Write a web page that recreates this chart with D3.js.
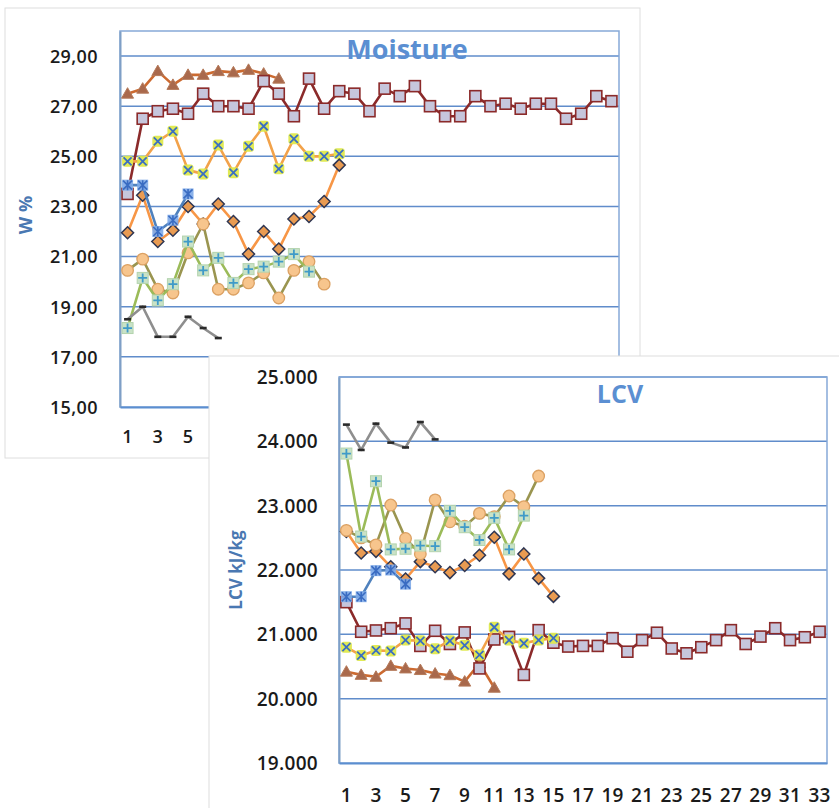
<!DOCTYPE html>
<html>
<head>
<meta charset="utf-8">
<script src="https://cdn.jsdelivr.net/npm/d3@7"></script>
<style>
  html, body { margin: 0; padding: 0; background: #ffffff; }
  svg { display: block; }
  text { font-family: "Open Sans", "Noto Sans", sans-serif; }
</style>
</head>
<body>
<svg id="chart" width="839" height="808"></svg>
<script>
// Sample numbers shared by both panels
const categories = [1,2,3,4,5,6,7,8,9,10,11,12,13,14,15,16,17,18,19,20,21,22,23,24,25,26,27,28,29,30,31,32,33];
const moistXTicks = [1, 3, 5];
const lcvXTicks = [1,3,5,7,9,11,13,15,17,19,21,23,25,27,29,31,33];

// Moisture, W %
const moistTicks = [15, 17, 19, 21, 23, 25, 27, 29];
const moistTickLabels = ["15,00", "17,00", "19,00", "21,00", "23,00", "25,00", "27,00", "29,00"];
const moistTriangle = [27.5, 27.7, 28.4, 27.85, 28.25, 28.25, 28.4, 28.35, 28.45, 28.3, 28.1];
const moistSquare = [23.5, 26.5, 26.8, 26.9, 26.7, 27.5, 27.0, 27.0, 26.9, 28.0, 27.5, 26.6, 28.1, 26.9, 27.6, 27.5, 26.8,
                     27.7, 27.4, 27.8, 27.0, 26.6, 26.6, 27.4, 27.0, 27.1, 26.9, 27.1, 27.1, 26.5, 26.7, 27.4, 27.2];
const moistCross = [24.8, 24.8, 25.6, 26.0, 24.45, 24.3, 25.45, 24.35, 25.4, 26.2, 24.5, 25.7, 25.0, 25.0, 25.1];
const moistDiamond = [21.95, 23.45, 21.6, 22.05, 23.0, 22.3, 23.1, 22.4, 21.1, 22.0, 21.3, 22.5, 22.6, 23.2, 24.65];
const moistStar = [23.85, 23.85, 22.0, 22.45, 23.5];
const moistCircle = [20.45, 20.9, 19.7, 19.55, 21.15, 22.3, 19.7, 19.7, 19.95, 20.35, 19.35, 20.45, 20.8, 19.9];
const moistPlus = [18.15, 20.15, 19.25, 19.9, 21.6, 20.45, 20.95, 19.95, 20.5, 20.6, 20.8, 21.1, 20.4];
const moistDash = [18.5, 19.0, 17.8, 17.8, 18.6, 18.15, 17.75];

// LCV, kJ/kg
const lcvTicks = [19000, 20000, 21000, 22000, 23000, 24000, 25000];
const lcvTickLabels = ["19.000", "20.000", "21.000", "22.000", "23.000", "24.000", "25.000"];
const lcvTriangle = [20420, 20370, 20340, 20510, 20470, 20445, 20390, 20365, 20265, 20550, 20170];
const lcvSquare = [21500, 21040, 21060, 21095, 21170, 20820, 21055, 20850, 21030, 20470, 20920, 20960, 20370, 21065, 20870,
                   20810, 20820, 20820, 20940, 20730, 20910, 21025, 20780, 20705, 20800, 20910, 21065, 20850, 20965, 21095,
                   20910, 20955, 21040];
const lcvCross = [20800, 20670, 20750, 20740, 20910, 20900, 20775, 20900, 20830, 20680, 21110, 20910, 20860, 20910, 20940];
const lcvDiamond = [22600, 22265, 22290, 22050, 21860, 22130, 22050, 21960, 22070, 22230, 22510, 21940, 22250, 21870, 21590];
const lcvStar = [21585, 21585, 21990, 22000, 21780];
const lcvCircle = [22615, 22500, 22390, 23010, 22490, 22250, 23090, 22750, 22680, 22880, 22830, 23150, 22985, 23460];
const lcvPlus = [23810, 22520, 23380, 22320, 22330, 22380, 22370, 22920, 22665, 22466, 22810, 22320, 22845];
const lcvDash = [24260, 23866, 24275, 23980, 23905, 24300, 24030];

// Series appearance (drawn in this order, later ones on top)
const styles = {
  triangle: { line: "#cc6a30", fill: "#a9694c", stroke: "#b57a5a" },
  square:   { line: "#8b2a2a", fill: "#c6c6dc", stroke: "#8b2a2a" },
  cross:    { line: "#f2a24a", fill: "#dfe94c", stroke: "#3a6fc2" },
  diamond:  { line: "#f79646", fill: "#e99b52", stroke: "#2f3652" },
  star:     { line: "#4f81bd", fill: "#7eaae8", stroke: "#3a6cc2" },
  circle:   { line: "#9a9550", fill: "#f7c58d", stroke: "#dca163" },
  plus:     { line: "#9bbb59", fill: "#c9e2c7", stroke: "#3f9ac8" },
  dash:     { line: "#8e8e8e", fill: "none",    stroke: "#2a2a2a" }
};

const svg = d3.select("#chart");

function drawMarker(g, kind, st) {
  if (kind === "triangle") {
    g.append("path").attr("d", "M0,-6 L6,4.5 L-6,4.5 Z")
      .attr("fill", st.fill).attr("stroke", st.stroke).attr("stroke-width", 1);
  } else if (kind === "square") {
    g.append("rect").attr("x", -5.5).attr("y", -5.5).attr("width", 11).attr("height", 11)
      .attr("fill", st.fill).attr("stroke", st.stroke).attr("stroke-width", 1.6);
  } else if (kind === "cross") {
    g.append("rect").attr("x", -5.5).attr("y", -5.5).attr("width", 11).attr("height", 11).attr("rx", 3)
      .attr("fill", st.fill).attr("opacity", 0.95);
    g.append("path").attr("d", "M-4,-4 L4,4 M4,-4 L-4,4")
      .attr("stroke", st.stroke).attr("stroke-width", 1.8).attr("fill", "none");
  } else if (kind === "diamond") {
    g.append("path").attr("d", "M0,-6 L6,0 L0,6 L-6,0 Z")
      .attr("fill", st.fill).attr("stroke", st.stroke).attr("stroke-width", 1.5);
  } else if (kind === "star") {
    g.append("rect").attr("x", -5.5).attr("y", -5.5).attr("width", 11).attr("height", 11)
      .attr("fill", st.fill).attr("opacity", 0.9);
    g.append("path").attr("d", "M-4.5,-4.5 L4.5,4.5 M4.5,-4.5 L-4.5,4.5 M0,-5 L0,5")
      .attr("stroke", st.stroke).attr("stroke-width", 1.6).attr("fill", "none");
  } else if (kind === "circle") {
    g.append("circle").attr("r", 5.8)
      .attr("fill", st.fill).attr("stroke", st.stroke).attr("stroke-width", 1.3);
  } else if (kind === "plus") {
    g.append("rect").attr("x", -5.5).attr("y", -5.5).attr("width", 11).attr("height", 11)
      .attr("fill", st.fill).attr("stroke", "#b3d3ad").attr("stroke-width", 1);
    g.append("path").attr("d", "M-4.5,0 L4.5,0 M0,-4.5 L0,4.5")
      .attr("stroke", st.stroke).attr("stroke-width", 1.8).attr("fill", "none");
  } else if (kind === "dash") {
    g.append("path").attr("d", "M-3.5,0 L3.5,0")
      .attr("stroke", st.stroke).attr("stroke-width", 2.6).attr("fill", "none");
  }
}

function drawPanel(cfg) {
  const root = svg.append("g");

  // panel card
  root.append("rect")
    .attr("x", cfg.card[0]).attr("y", cfg.card[1])
    .attr("width", cfg.card[2]).attr("height", cfg.card[3])
    .attr("fill", "#ffffff").attr("stroke", "#dedede").attr("stroke-width", 1);

  const pl = cfg.plot;
  const x = d3.scaleBand().domain(categories).range([pl.left, pl.right]);
  const cx = d => x(d) + x.bandwidth() / 2;
  const y = d3.scaleLinear().domain(cfg.yDomain).range([pl.bottom, pl.top]);

  // horizontal gridlines
  root.append("g").selectAll("line")
    .data(cfg.ticks.filter(t => t > cfg.yDomain[0]))
    .join("line")
    .attr("x1", pl.left).attr("x2", pl.right)
    .attr("y1", d => y(d)).attr("y2", d => y(d))
    .attr("stroke", "#4f80c6").attr("stroke-width", 1.5).attr("opacity", 0.9);

  // plot frame
  root.append("rect")
    .attr("x", pl.left).attr("y", pl.top)
    .attr("width", pl.right - pl.left).attr("height", pl.bottom - pl.top)
    .attr("fill", "none").attr("stroke", "#86a9d8").attr("stroke-width", 1.5);

  // axes
  const yAxis = d3.axisLeft(y).tickValues(cfg.ticks)
    .tickFormat((d, i) => cfg.tickLabels[i]).tickSize(0).tickPadding(cfg.yPad);
  const ya = root.append("g").attr("transform", `translate(${pl.left},0)`).call(yAxis);
  ya.select(".domain").attr("stroke", "#7f9fc6").attr("stroke-width", 2);
  ya.selectAll("text")
    .attr("fill", "#1a1a1a").attr("font-size", cfg.tickSize).attr("font-weight", 600)
    .attr("letter-spacing", cfg.tickSpacing)
    .attr("dy", "0.35em");

  const xAxis = d3.axisBottom(x).tickValues(cfg.xTicks).tickSize(0).tickPadding(0);
  const xa = root.append("g").attr("transform", `translate(0,${pl.bottom})`).call(xAxis);
  xa.select(".domain").attr("stroke", "#5b8ed0").attr("stroke-width", 2);
  xa.selectAll("text")
    .attr("fill", "#1a1a1a").attr("font-size", cfg.tickSize).attr("font-weight", 600)
    .attr("letter-spacing", cfg.tickSpacing)
    .attr("y", cfg.xLabelOffset).attr("dy", "0.35em");

  // series
  const order = ["triangle", "square", "cross", "diamond", "star", "circle", "plus", "dash"];
  order.forEach(kind => {
    const vals = cfg.series[kind];
    const st = styles[kind];
    const pts = vals.map((v, i) => [cx(categories[i]), y(v)]);
    root.append("path")
      .attr("d", d3.line()(pts))
      .attr("fill", "none").attr("stroke", st.line)
      .attr("stroke-width", 2.6).attr("stroke-linejoin", "round");
    root.append("g").selectAll("g")
      .data(pts).join("g")
      .attr("transform", d => `translate(${d[0]},${d[1]})`)
      .each(function () { drawMarker(d3.select(this), kind, st); });
  });

  // chart title
  root.append("text")
    .attr("x", cfg.title.x).attr("y", cfg.title.y)
    .attr("text-anchor", "middle")
    .attr("font-size", cfg.title.size).attr("font-weight", 700)
    .attr("fill", "#5b8fd2")
    .text(cfg.title.text);

  // axis title
  root.append("text")
    .attr("transform", `translate(${cfg.yTitle.x},${cfg.yTitle.y}) rotate(-90)`)
    .attr("text-anchor", "middle").attr("dy", "0.35em")
    .attr("font-size", cfg.yTitle.size).attr("font-weight", 700)
    .attr("fill", "#4a78b2")
    .text(cfg.yTitle.text);
}

drawPanel({
  card: [5, 8, 635, 450],
  plot: { left: 120, right: 619, top: 31, bottom: 407 },
  yDomain: [15, 30],
  ticks: moistTicks,
  tickLabels: moistTickLabels,
  xTicks: moistXTicks,
  tickSize: 18, tickSpacing: 0.4, yPad: 22, xLabelOffset: 30,
  title: { text: "Moisture", x: 407, y: 59, size: 27 },
  yTitle: { text: "W %", x: 26, y: 215, size: 18 },
  series: {
    triangle: moistTriangle, square: moistSquare, cross: moistCross, diamond: moistDiamond,
    star: moistStar, circle: moistCircle, plus: moistPlus, dash: moistDash
  }
});

drawPanel({
  card: [209, 356, 640, 460],
  plot: { left: 339, right: 827, top: 377, bottom: 763 },
  yDomain: [19000, 25000],
  ticks: lcvTicks,
  tickLabels: lcvTickLabels,
  xTicks: lcvXTicks,
  tickSize: 19, tickSpacing: 0.3, yPad: 21, xLabelOffset: 32,
  title: { text: "LCV", x: 620, y: 403, size: 25 },
  yTitle: { text: "LCV kJ/kg", x: 236, y: 570, size: 17 },
  series: {
    triangle: lcvTriangle, square: lcvSquare, cross: lcvCross, diamond: lcvDiamond,
    star: lcvStar, circle: lcvCircle, plus: lcvPlus, dash: lcvDash
  }
});
</script>
</body>
</html>
